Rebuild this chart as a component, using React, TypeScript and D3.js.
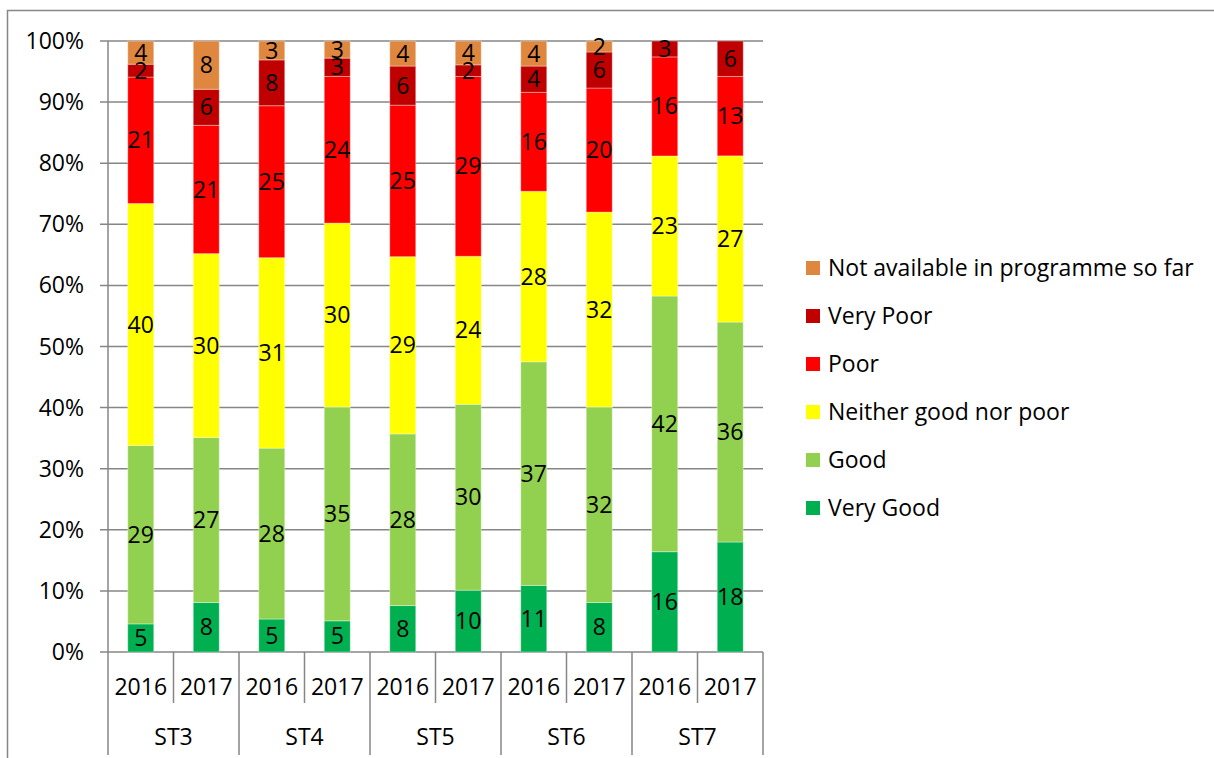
import React from "react";
import * as d3 from "d3";

// categories
const groups = ["ST3", "ST4", "ST5", "ST6", "ST7"];
const years = ["2016", "2017"];
const seriesNames = [
  "Very Good",
  "Good",
  "Neither good nor poor",
  "Poor",
  "Very Poor",
  "Not available in programme so far",
];
const seriesColors = ["#00B050", "#92D050", "#FFFF00", "#FF0000", "#C00000", "#E0873F"];

// percentages per bar (ST3 2016, ST3 2017, ST4 2016, ...)
const veryGood = [4.6, 8.1, 5.4, 5.1, 7.6, 10.1, 10.9, 8.1, 16.4, 18.0];
const good = [29.2, 27.0, 28.0, 35.0, 28.1, 30.4, 36.6, 32.0, 41.8, 36.0];
const neither = [39.6, 30.1, 31.2, 30.1, 29.0, 24.2, 27.9, 31.9, 22.9, 27.2];
const poor = [20.7, 21.0, 24.9, 24.0, 24.8, 29.4, 16.2, 20.3, 16.2, 13.0];
const veryPoor = [2.1, 5.9, 7.5, 3.0, 6.4, 1.9, 4.3, 5.9, 2.6, 5.8];
const notAvail = [3.8, 7.9, 3.1, 2.8, 4.1, 3.9, 4.1, 1.8, 0, 0];

const yTicks = [0, 0.1, 0.2, 0.3, 0.4, 0.5, 0.6, 0.7, 0.8, 0.9, 1];

const W = 1214;
const H = 758;
const FONT = "'Open Sans', sans-serif";
const FS = 23;
const GRID = "#868686";

export default function App() {
  const left = 108;
  const right = 763;
  const top = 41;
  const bottom = 652;

  const bars = groups.flatMap((g) => years.map((y) => `${g}|${y}`));
  const allSeries = [veryGood, good, neither, poor, veryPoor, notAvail];
  const rows = bars.map((b, i) => {
    const r: any = { bar: b };
    seriesNames.forEach((s, k) => (r[s] = allSeries[k][i]));
    return r;
  });

  const stacked = d3
    .stack()
    .keys(seriesNames)
    .offset(d3.stackOffsetExpand)(rows);

  const x = d3.scaleBand().domain(bars).range([left, right]).paddingInner(0).paddingOuter(0);
  const xg = d3.scaleBand().domain(groups).range([left, right]);
  const y = d3.scaleLinear().domain([0, 1]).range([bottom, top]);
  const barW = 26;

  const legendY = d3
    .scalePoint()
    .domain([...seriesNames].reverse())
    .range([268, 508]);

  return (
    <svg
      width={W}
      height={H}
      style={{ position: "absolute", left: 0, top: 0, background: "#fff" }}
      fontFamily={FONT}
      fontSize={FS}
    >
      <rect x={7.5} y={10.5} width={W + 20} height={H + 20} fill="none" stroke={GRID} strokeWidth={1.5} />

      {/* gridlines and y ticks */}
      {yTicks.map((t) => (
        <g key={t}>
          <line x1={left - 8} x2={right} y1={y(t)} y2={y(t)} stroke={GRID} strokeWidth={1.5} />
          <text x={84} y={y(t)} dy="0.35em" textAnchor="end" fill="#000">
            {d3.format(".0%")(t)}
          </text>
        </g>
      ))}
      <line x1={left} x2={left} y1={top} y2={755} stroke={GRID} strokeWidth={1.5} />

      {/* bars */}
      {stacked.map((layer, k) => (
        <g key={layer.key} fill={seriesColors[k]}>
          {layer.map((d, i) => {
            const cx = x(bars[i])! + x.bandwidth() / 2;
            const h = y(d[0]) - y(d[1]);
            if (h <= 0) return null;
            return (
              <rect
                key={i}
                x={cx - barW / 2}
                y={y(d[1])}
                width={barW}
                height={h}
                stroke="#fff"
                strokeOpacity={0.35}
                strokeWidth={1}
              />
            );
          })}
        </g>
      ))}

      {/* data labels */}
      {stacked.map((layer, k) => (
        <g key={layer.key + "-lab"} textAnchor="middle" fill="#000">
          {layer.map((d, i) => {
            const v = allSeries[k][i];
            if (!v) return null;
            const cx = x(bars[i])! + x.bandwidth() / 2;
            return (
              <text key={i} x={cx} y={y((d[0] + d[1]) / 2)} dy="0.35em">
                {Math.round(v)}
              </text>
            );
          })}
        </g>
      ))}

      {/* category axis */}
      {bars.map((b, i) => {
        const x0 = x(b)!;
        const isGroupEdge = i % 2 === 0;
        return (
          <g key={b}>
            {i > 0 && (
              <line
                x1={x0}
                x2={x0}
                y1={bottom}
                y2={isGroupEdge ? 755 : 703}
                stroke={GRID}
                strokeWidth={1.5}
              />
            )}
            <text x={x0 + x.bandwidth() / 2} y={687} dy="0.35em" textAnchor="middle">
              {b.split("|")[1]}
            </text>
          </g>
        );
      })}
      <line x1={right} x2={right} y1={bottom} y2={755} stroke={GRID} strokeWidth={1.5} />
      {groups.map((g) => (
        <text key={g} x={xg(g)! + xg.bandwidth() / 2} y={737} dy="0.35em" textAnchor="middle">
          {g}
        </text>
      ))}

      {/* legend */}
      {seriesNames.map((s, k) => (
        <g key={s} transform={`translate(806,${legendY(s)})`}>
          <rect x={0} y={-7} width={14} height={14} fill={seriesColors[k]} />
          <text x={22} y={0} dy="0.35em">
            {s}
          </text>
        </g>
      ))}
    </svg>
  );
}
